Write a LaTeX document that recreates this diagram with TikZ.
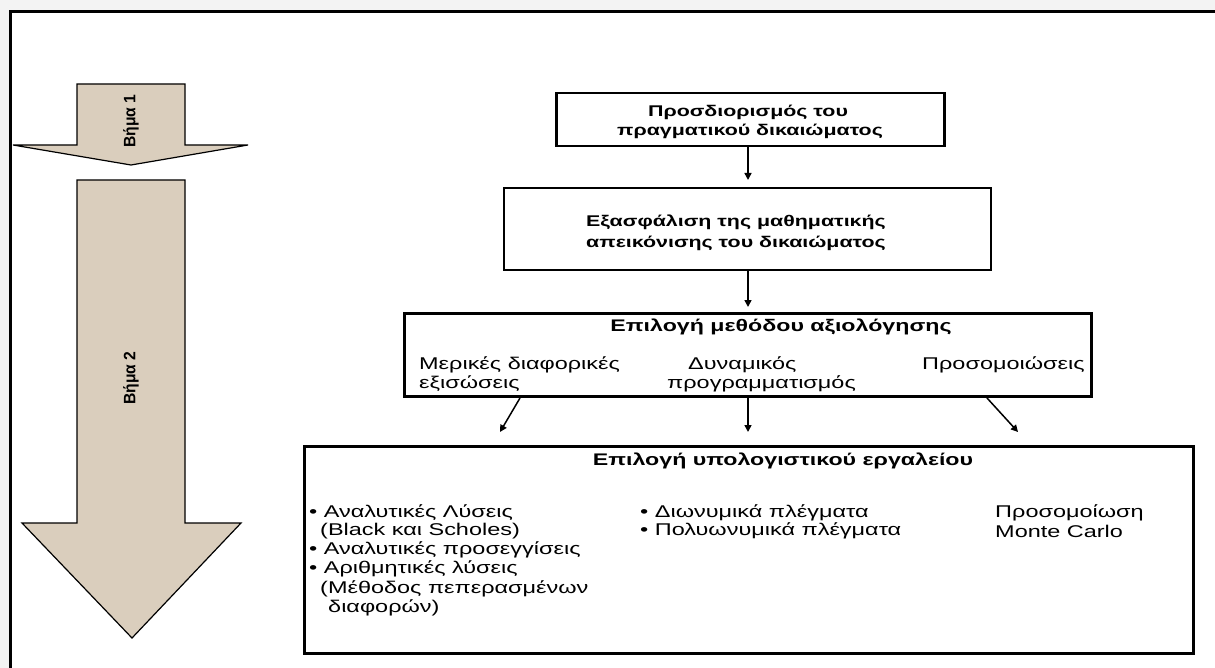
\documentclass[tikz,border=0pt]{standalone}
\usepackage{fontspec}
\setmainfont{Liberation Sans}[FakeStretch=1.38]
\newfontfamily\stepfont{Liberation Sans}[FakeStretch=0.95]
\usetikzlibrary{arrows.meta}
\definecolor{stepfill}{RGB}{218,206,189}
\definecolor{pageshade}{RGB}{243,243,243}
\tikzset{
  box/.style={draw=black, line width=2.5pt, fill=white, anchor=north west, inner sep=0pt},
  txt/.style={inner sep=0pt, font=\fontsize{17}{19}\selectfont},
  ttl/.style={inner sep=0pt, font=\fontsize{15.5}{19}\selectfont\bfseries, align=center},
  bigttl/.style={inner sep=0pt, font=\fontsize{16.8}{19}\selectfont\bfseries, align=center},
  conn/.style={draw=black, line width=1.5pt, -{Triangle[length=7pt,width=7pt]}},
  steparrow/.style={draw=black, line width=1.2pt, fill=stepfill, line join=miter},
  steplabel/.style={inner sep=0pt, rotate=90, font=\stepfont\fontsize{16.5}{18}\selectfont\bfseries}
}
\begin{document}
\begin{tikzpicture}[x=1pt,y=-1pt]
\useasboundingbox (0,0) rectangle (1215,668);
% page frame
\fill[pageshade] (0,0) rectangle (1215,668);
\fill[white] (10,12) rectangle (1215,668);
\draw[line width=3pt] (10,668) -- (10,12) -- (1215,12);

% step arrows
\draw[steparrow] (77,84) -- (185,84) -- (185,145) -- (248,145) -- (131,165) -- (13,145) -- (77,145) -- cycle;
\node[steplabel] (s1) at (131,121) {Βήμα 1};
\draw[steparrow] (77,180) -- (185,180) -- (185,523) -- (241,523) -- (132,638) -- (22,523) -- (77,523) -- cycle;
\node[steplabel] (s2) at (131,378) {Βήμα 2};

% box 1
\node[box, minimum width=388pt, minimum height=53pt] (b1) at (555,92) {};
\node[ttl] (t1a) at (748,112) {Προσδιορισμός του};
\node[ttl] (t1b) at (750,131) {πραγματικού δικαιώματος};

% box 2
\node[box, line width=2pt, minimum width=487pt, minimum height=82pt] (b2) at (503,187) {};
\node[ttl] (t2a) at (736,222) {Εξασφάλιση της μαθηματικής};
\node[ttl] (t2b) at (736,243) {απεικόνισης του δικαιώματος};

% box 3
\node[box, line width=3pt, minimum width=687pt, minimum height=83pt] (b3) at (403,312) {};
\node[bigttl] (t3) at (781,327) {Επιλογή μεθόδου αξιολόγησης};
\node[txt, anchor=west] (m1a) at (419,365) {Μερικές διαφορικές};
\node[txt, anchor=west] (m1b) at (419,384) {εξισώσεις};
\node[txt, anchor=west] (m2a) at (688,365) {Δυναμικός};
\node[txt, anchor=west] (m2b) at (667,384) {προγραμματισμός};
\node[txt, anchor=west] (m3) at (922,365) {Προσομοιώσεις};

% box 4
\node[box, minimum width=889pt, minimum height=207pt] (b4) at (303,445) {};
\node[bigttl] (t4) at (783,461) {Επιλογή υπολογιστικού εργαλείου};
\node[txt, anchor=west] (l1) at (309,513) {• Αναλυτικές Λύσεις};
\node[txt, anchor=west] (l2) at (320,531) {(Black και Scholes)};
\node[txt, anchor=west] (l3) at (309,550) {• Αναλυτικές προσεγγίσεις};
\node[txt, anchor=west] (l4) at (309,569) {• Αριθμητικές λύσεις};
\node[txt, anchor=west] (l5) at (320,589) {(Μέθοδος πεπερασμένων};
\node[txt, anchor=west] (l6) at (328,608) {διαφορών)};
\node[txt, anchor=west] (c1) at (640,513) {• Διωνυμικά πλέγματα};
\node[txt, anchor=west] (c2) at (640,531) {• Πολυωνυμικά πλέγματα};
\node[txt, anchor=west] (r1) at (995,513) {Προσομοίωση};
\node[txt, anchor=west] (r2) at (995,531) {Monte Carlo};

% connectors
\draw[conn, shorten >=7pt] (b1.south -| 748,0) -- (b2.north -| 748,0);
\draw[conn, shorten >=5pt] (b2.south -| 748,0) -- (b3.north -| 748,0);
\coordinate (e1) at (500,432);
\coordinate (e2) at (748,432);
\coordinate (e3) at (1018,432);
\draw[conn] (b3.south -| 520,0) -- (e1);
\draw[conn] (b3.south -| 748,0) -- (e2);
\draw[conn] (b3.south -| 987,0) -- (e3);
\end{tikzpicture}
\end{document}
